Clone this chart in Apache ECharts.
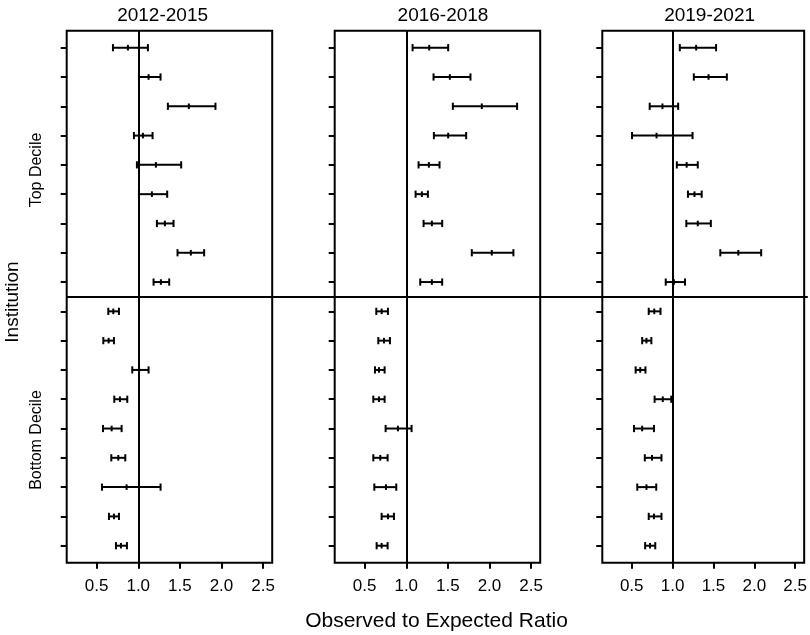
<!DOCTYPE html>
<html>
<head>
<meta charset="utf-8">
<script src="https://cdn.jsdelivr.net/npm/echarts@6/dist/echarts.min.js"></script>
<style>
html,body{margin:0;padding:0;background:#fff;}
#chart{width:810px;height:635px;}
</style>
</head>
<body>
<div id="chart"></div>
<script>
// Periods (panel titles)
const periods = ['2012-2015', '2016-2018', '2019-2021'];
// Institutions: rows 1-9 top decile, rows 10-18 bottom decile (top to bottom)
const rows = [1,2,3,4,5,6,7,8,9,10,11,12,13,14,15,16,17,18];
const tickValues = [0.5, 1.0, 1.5, 2.0, 2.5];

// 2012-2015
const p1Est = [0.876,1.124,1.608,1.056,1.212,1.164,1.32,1.632,1.272, 0.70,0.644,1.01,0.78,0.68,0.76,0.86,0.708,0.792];
const p1Lo  = [0.696,1.008,1.356,0.948,0.984,1.008,1.224,1.472,1.184, 0.64,0.58,0.928,0.712,0.576,0.676,0.564,0.648,0.732];
const p1Hi  = [1.116,1.268,1.928,1.172,1.516,1.348,1.424,1.792,1.372, 0.768,0.708,1.124,0.868,0.80,0.844,1.268,0.768,0.864];
// 2016-2018
const p2Est = [1.276,1.524,1.908,1.504,1.272,1.188,1.308,2.028,1.308, 0.704,0.732,0.672,0.672,0.90,0.688,0.756,0.78,0.704];
const p2Lo  = [1.076,1.328,1.56,1.332,1.148,1.112,1.208,1.788,1.168, 0.64,0.664,0.624,0.604,0.752,0.604,0.616,0.704,0.644];
const p2Hi  = [1.504,1.772,2.332,1.72,1.40,1.26,1.432,2.288,1.432, 0.78,0.804,0.74,0.74,1.064,0.776,0.88,0.852,0.776];
// 2019-2021
const p3Est = [1.288,1.44,0.876,0.804,1.172,1.268,1.308,1.804,1.016, 0.776,0.68,0.604,0.88,0.628,0.748,0.68,0.772,0.724];
const p3Lo  = [1.088,1.26,0.72,0.504,1.052,1.188,1.168,1.584,0.916, 0.708,0.628,0.548,0.78,0.528,0.66,0.568,0.708,0.664];
const p3Hi  = [1.532,1.664,1.068,1.244,1.308,1.356,1.468,2.084,1.152, 0.852,0.74,0.668,0.984,0.772,0.864,0.80,0.864,0.788];

const refValue = 1.0;
const groupSplit = 9.5;

const panels = [
  {est: p1Est, lo: p1Lo, hi: p1Hi},
  {est: p2Est, lo: p2Lo, hi: p2Hi},
  {est: p3Est, lo: p3Lo, hi: p3Hi}
];

const FONT = 'Liberation Sans, Arial, Helvetica, sans-serif';
const gridLefts = [66.7, 334.7, 602.3];
const titleCenters = [157.6, 438, 704.6];
const gridW = 205.5;
const gridTop = 30.7;
const gridH = 532;
const yMin = 0.42, yMax = 18.58;
const xMin = 0.14, xMax = 2.61;

const chart = echarts.init(document.getElementById('chart'), null, {renderer: 'canvas'});

const grids = [], xAxes = [], yAxes = [], series = [], titles = [];
panels.forEach((p, i) => {
  grids.push({
    left: gridLefts[i], top: gridTop, width: gridW, height: gridH,
    show: true, borderColor: '#000', borderWidth: 2, backgroundColor: 'transparent'
  });
  xAxes.push({
    gridIndex: i, type: 'value', min: xMin, max: xMax,
    axisLine: {show: false},
    splitLine: {show: false},
    axisTick: {show: true, inside: false, length: 6, lineStyle: {color: '#000', width: 2}, customValues: tickValues},
    axisLabel: {show: true, customValues: tickValues, margin: 15, color: '#000', fontSize: 17, fontFamily: FONT,
      formatter: v => Number(v).toFixed(1)}
  });
  yAxes.push({
    gridIndex: i, type: 'value', min: yMin, max: yMax, inverse: true,
    axisLine: {show: false},
    splitLine: {show: false},
    axisTick: {show: true, inside: false, length: 6, lineStyle: {color: '#000', width: 2}, customValues: rows},
    axisLabel: {show: false, customValues: rows}
  });
  titles.push({
    text: periods[i], left: titleCenters[i], top: 1, textAlign: 'center',
    textStyle: {fontSize: 19, fontWeight: 'normal', color: '#000', fontFamily: FONT}
  });
  const data = rows.map((r, k) => [r, p.lo[k], p.est[k], p.hi[k]]);
  series.push({
    type: 'custom', xAxisIndex: i, yAxisIndex: i, silent: true,
    encode: {x: [1, 2, 3], y: 0},
    data: data,
    renderItem: function (params, api) {
      const y = api.value(0);
      const a = api.coord([api.value(1), y]);
      const m = api.coord([api.value(2), y]);
      const b = api.coord([api.value(3), y]);
      const st = {stroke: '#000', lineWidth: 2};
      const cap = 3.6, pt = 2.8;
      return {
        type: 'group',
        children: [
          {type: 'line', shape: {x1: a[0], y1: a[1], x2: b[0], y2: b[1]}, style: st},
          {type: 'line', shape: {x1: a[0], y1: a[1] - cap, x2: a[0], y2: a[1] + cap}, style: st},
          {type: 'line', shape: {x1: b[0], y1: b[1] - cap, x2: b[0], y2: b[1] + cap}, style: st},
          {type: 'line', shape: {x1: m[0], y1: m[1] - pt, x2: m[0], y2: m[1] + pt}, style: st}
        ]
      };
    },
    markLine: {
      silent: true, symbol: 'none', animation: false,
      label: {show: false},
      lineStyle: {color: '#000', width: 2, type: 'solid'},
      data: [{xAxis: refValue}]
    },
    z: 3
  });
});

// Full-width overlay grid for the group separator line
grids.push({left: gridLefts[0], top: gridTop, width: gridLefts[2] + gridW - gridLefts[0], height: gridH, show: false});
xAxes.push({gridIndex: 3, type: 'value', min: 0, max: 1, show: false});
yAxes.push({gridIndex: 3, type: 'value', min: yMin, max: yMax, inverse: true, show: false});
series.push({
  type: 'line', xAxisIndex: 3, yAxisIndex: 3, data: [], silent: true,
  markLine: {
    silent: true, symbol: 'none', animation: false,
    label: {show: false},
    lineStyle: {color: '#000', width: 2, type: 'solid'},
    data: [{yAxis: groupSplit}]
  }
});

chart.setOption({
  animation: false,
  backgroundColor: '#fff',
  title: titles,
  grid: grids,
  xAxis: xAxes,
  yAxis: yAxes,
  series: series,
  graphic: [
    {type: 'text', x: 13, y: 302, rotation: Math.PI / 2,
      style: {text: 'Institution', fontSize: 19, fontFamily: FONT, fill: '#000', textAlign: 'center', textVerticalAlign: 'middle'}},
    {type: 'text', x: 37, y: 170, rotation: Math.PI / 2,
      style: {text: 'Top Decile', fontSize: 16, fontFamily: FONT, fill: '#000', textAlign: 'center', textVerticalAlign: 'middle'}},
    {type: 'text', x: 37, y: 440, rotation: Math.PI / 2,
      style: {text: 'Bottom Decile', fontSize: 16, fontFamily: FONT, fill: '#000', textAlign: 'center', textVerticalAlign: 'middle'}},
    {type: 'text', x: 436.5, y: 621,
      style: {text: 'Observed to Expected Ratio', fontSize: 21, fontFamily: FONT, fill: '#000', textAlign: 'center', textVerticalAlign: 'middle'}}
  ]
});
</script>
</body>
</html>
